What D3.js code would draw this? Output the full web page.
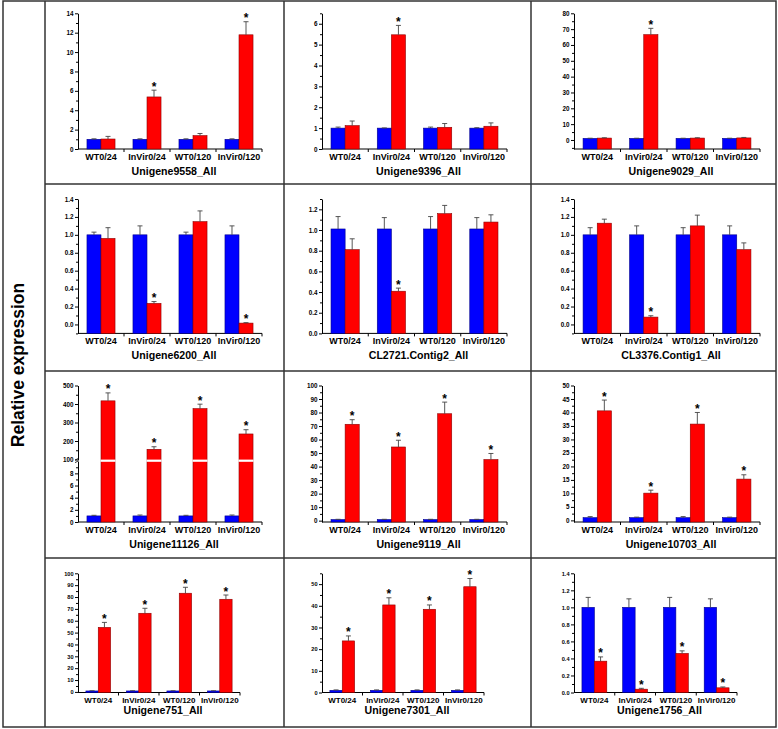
<!DOCTYPE html>
<html>
<head>
<meta charset="utf-8">
<script src="https://cdn.jsdelivr.net/npm/d3@7"></script>
<style>
  body { margin: 0; background: #fff; }
  svg { display: block; font-family: "Liberation Sans", Arial, sans-serif; }
</style>
</head>
<body>
<svg id="chart" width="778" height="729"></svg>
<script>
// data
var groups = ["WT0/24", "InVir0/24", "WT0/120", "InVir0/120"];

var genes = ["Unigene9558_All", "Unigene9396_All", "Unigene9029_All",
             "Unigene6200_All", "CL2721.Contig2_All", "CL3376.Contig1_All",
             "Unigene11126_All", "Unigene9119_All", "Unigene10703_All",
             "Unigene751_All", "Unigene7301_All", "Unigene1756_All"];

// blue bars (control)
var control = [
  [1, 1, 1, 1], [1, 1, 1, 1], [1, 1, 1, 1],
  [1, 1, 1, 1], [1.01, 1.01, 1.01, 1.01], [1, 1, 1, 1],
  [1, 1, 1, 1], [0.8, 0.8, 0.8, 0.8], [1, 1, 1, 1],
  [0.8, 0.8, 0.8, 0.8], [1, 1, 1, 1], [1, 1, 1, 1]
];
var controlErr = [
  [0.05, 0.05, 0.05, 0.05], [0.05, 0.01, 0.05, 0.02], [0.1, 0.1, 0.1, 0.1],
  [0.03, 0.1, 0.03, 0.1], [0.12, 0.11, 0.12, 0.11], [0.08, 0.1, 0.08, 0.1],
  [0.1, 0.15, 0.1, 0.15], [0.2, 0.2, 0.2, 0.2], [0.4, 0.2, 0.4, 0.2],
  [0.2, 0.2, 0.2, 0.2], [0.2, 0.2, 0.2, 0.2], [0.117, 0.1, 0.117, 0.1]
];

// red bars (treated)
var treated = [
  [1.03, 5.37, 1.38, 11.78], [1.12, 5.47, 1.04, 1.09], [1.2, 66.5, 1.2, 1.3],
  [0.96, 0.235, 1.147, 0.015], [0.81, 0.408, 1.158, 1.077], [1.13, 0.082, 1.10, 0.835],
  [417, 155, 375, 238], [71.3, 54.5, 79.1, 45.2], [40.6, 10.1, 35.7, 15.3],
  [54.4, 66.3, 83.2, 78.1], [23.8, 40.4, 38.4, 48.8], [0.368, 0.039, 0.459, 0.055]
];
var treatedErr = [
  [0.27, 0.7, 0.22, 1.35], [0.22, 0.45, 0.18, 0.16], [0.2, 4, 0.2, 0.3],
  [0.12, 0.02, 0.12, 0.005], [0.105, 0.03, 0.08, 0.07], [0.045, 0.015, 0.12, 0.075],
  [43, 14, 24, 23], [3.4, 5, 8.6, 4.5], [4, 1.1, 4.3, 1.6],
  [4.2, 4.2, 5, 3.6], [2.3, 3.3, 2, 3.8], [0.05, 0.01, 0.03, 0.01]
];

// significance marks on the red bars
var stars = [
  [0, 1, 0, 1], [0, 1, 0, 0], [0, 1, 0, 0],
  [0, 1, 0, 1], [0, 1, 0, 0], [0, 1, 0, 0],
  [1, 1, 1, 1], [1, 1, 1, 1], [1, 1, 1, 1],
  [1, 1, 1, 1], [1, 1, 1, 1], [1, 1, 1, 1]
];

// y axis extent and major tick step of each panel (panel 7 has a broken axis)
var yDomain = [[0, 14], [0, 6.5], [-5.7, 80],
               [-0.1, 1.4], [0, 1.3], [-0.1, 1.4],
               [0, 500], [-1, 100], [-0.6, 50],
               [-0.5, 100], [0, 55], [0, 1.4]];
var yStep = [2, 1, 10, 0.2, 0.2, 0.2, null, 10, 5, 10, 10, 0.2];
var brokenLow = [0, 10], brokenHigh = [100, 500];
var brokenLowTicks = [0, 2, 4, 6, 8], brokenHighTicks = [100, 200, 300, 400, 500];

// layout
var colX = [45, 284, 531, 776],
    rowY = [1, 184, 371, 558, 727],
    axisLeft = [78, 322, 574],
    axisRight = [262, 507, 760],
    axisRightLast = [240, 484, 737],
    axisTop = [13.3, 199, 385.5, 573.3],
    axisBottom = [149, 333.4, 522, 692.5];

var blue = "#0000ff", red = "#ff0000";

var svg = d3.select("#chart");

svg.append("rect")
    .attr("x", 3).attr("y", rowY[0])
    .attr("width", colX[3] - 3).attr("height", rowY[4] - rowY[0])
    .attr("fill", "none").attr("stroke", "#333").attr("stroke-width", 1.5);

colX.slice(0, 3).forEach(function(x) {
  svg.append("line").attr("x1", x).attr("x2", x)
      .attr("y1", rowY[0]).attr("y2", rowY[4])
      .attr("stroke", "#333").attr("stroke-width", 1.5);
});
rowY.slice(1, 4).forEach(function(y) {
  svg.append("line").attr("x1", colX[0]).attr("x2", colX[3])
      .attr("y1", y).attr("y2", y)
      .attr("stroke", "#333").attr("stroke-width", 1.5);
});

svg.append("text")
    .attr("transform", "translate(24,365) rotate(-90)")
    .attr("text-anchor", "middle")
    .attr("font-size", "17.5px")
    .attr("font-weight", "bold")
    .text("Relative expression");

function styleAxis(sel, fs) {
  sel.selectAll("path").attr("stroke", "#000");
  sel.selectAll("line").attr("stroke", "#000");
  sel.selectAll("text").attr("font-size", fs + "px").attr("font-weight", "bold")
      .attr("font-family", "Liberation Sans, Arial, sans-serif").attr("fill", "#000");
}

function minorTicks(lo, hi, step, majors) {
  var out = [];
  var half = step / 2;
  for (var v = Math.ceil(lo / half - 1e-6) * half; v <= hi + 1e-6; v += half) {
    var vv = Math.round(v * 1000) / 1000;
    if (!majors.some(function(m) { return Math.abs(m - vv) < 1e-6; })) out.push(vv);
  }
  return out;
}

genes.forEach(function(gene, i) {
  var row = Math.floor(i / 3), col = i % 3;
  var left = axisLeft[col],
      right = (row === 3 ? axisRightLast : axisRight)[col],
      top = axisTop[row], bottom = axisBottom[row];
  var tickFs = row === 3 ? 5.6 : 6.3,
      labelFs = row === 3 ? 8 : 9;

  var g = svg.append("g").attr("class", "panel");

  var x = d3.scaleBand().domain(groups).range([left, right]);
  var bw = x.bandwidth() * 0.305;

  var yv, base;
  if (i === 6) {
    var yLow = d3.scaleLinear().domain(brokenLow).range([bottom, 461.2]);
    var yHigh = d3.scaleLinear().domain(brokenHigh).range([459.5, top]);
    yv = function(v) { return v <= 10 ? yLow(v) : yHigh(v); };
    base = bottom;

    var a1 = g.append("g").attr("transform", "translate(" + left + ",0)")
        .call(d3.axisLeft(yLow).tickValues(brokenLowTicks).tickSize(3).tickSizeOuter(0).tickPadding(1.5));
    var a2 = g.append("g").attr("transform", "translate(" + left + ",0)")
        .call(d3.axisLeft(yHigh).tickValues(brokenHighTicks).tickSize(3).tickSizeOuter(0).tickPadding(1.5));
    g.append("g").attr("transform", "translate(" + left + ",0)")
        .call(d3.axisLeft(yLow).tickValues([1, 3, 5, 7, 9]).tickSize(2).tickSizeOuter(0).tickFormat(""))
        .call(function(s) { s.select(".domain").remove(); s.selectAll("line").attr("stroke", "#000"); });
    g.append("g").attr("transform", "translate(" + left + ",0)")
        .call(d3.axisLeft(yHigh).tickValues([150, 250, 350, 450]).tickSize(2).tickSizeOuter(0).tickFormat(""))
        .call(function(s) { s.select(".domain").remove(); s.selectAll("line").attr("stroke", "#000"); });
    styleAxis(a1, tickFs);
    styleAxis(a2, tickFs);
    // break marks on the axis
    [461.6, 459.1].forEach(function(yy) {
      g.append("line").attr("x1", left - 3).attr("x2", left + 1)
          .attr("y1", yy + 1).attr("y2", yy - 1)
          .attr("stroke", "#000").attr("stroke-width", 0.8);
    });
  } else {
    var dom = yDomain[i], step = yStep[i];
    var y = d3.scaleLinear().domain(dom).range([bottom, top]);
    yv = y;
    base = bottom;
    var majors = d3.range(0, dom[1] + 1e-6, step).map(function(v) { return Math.round(v * 1000) / 1000; });
    var fmt = step < 1 ? d3.format(".1f") : d3.format("d");
    var ax = g.append("g").attr("transform", "translate(" + left + ",0)")
        .call(d3.axisLeft(y).tickValues(majors).tickFormat(fmt).tickSize(3).tickSizeOuter(0).tickPadding(1.5));
    styleAxis(ax, tickFs);
    g.append("g").attr("transform", "translate(" + left + ",0)")
        .call(d3.axisLeft(y).tickValues(minorTicks(dom[0], dom[1], step, majors)).tickSize(2).tickSizeOuter(0).tickFormat(""))
        .call(function(s) { s.select(".domain").remove(); s.selectAll("line").attr("stroke", "#000"); });
  }

  // x axis: line with ticks at the group boundaries
  g.append("line").attr("x1", left).attr("x2", right)
      .attr("y1", base).attr("y2", base).attr("stroke", "#000");
  groups.forEach(function(grp) {
    var xb = x(grp) + x.bandwidth();
    g.append("line").attr("x1", xb).attr("x2", xb)
        .attr("y1", base).attr("y2", base + 3).attr("stroke", "#000");
  });
  g.selectAll("text.xlab").data(groups).enter().append("text")
      .attr("class", "xlab")
      .attr("x", function(d) { return x(d) + x.bandwidth() / 2; })
      .attr("y", base + 10.8)
      .attr("text-anchor", "middle")
      .attr("font-size", labelFs + "px")
      .attr("font-weight", "bold")
      .text(function(d) { return d; });

  g.append("text")
      .attr("x", (left + right) / 2 + 4)
      .attr("y", row === 3 ? base + 21.7 : base + 25.5)
      .attr("text-anchor", "middle")
      .attr("font-size", "10.6px")
      .attr("font-weight", "bold")
      .text(gene);

  var bars = groups.map(function(grp, j) {
    return { grp: grp, c: control[i][j], ce: controlErr[i][j],
             t: treated[i][j], te: treatedErr[i][j], star: stars[i][j] };
  });

  // blue bars
  g.selectAll("rect.ctrl").data(bars).enter().append("rect")
      .attr("class", "ctrl")
      .attr("x", function(d) { return x(d.grp) + x.bandwidth() / 2 - bw; })
      .attr("y", function(d) { return yv(d.c); })
      .attr("width", bw)
      .attr("height", function(d) { return base - yv(d.c); })
      .attr("fill", blue).attr("stroke", "#00008b").attr("stroke-width", 0.6);

  // red bars
  g.selectAll("rect.trt").data(bars).enter().append("rect")
      .attr("class", "trt")
      .attr("x", function(d) { return x(d.grp) + x.bandwidth() / 2; })
      .attr("y", function(d) { return yv(d.t); })
      .attr("width", bw)
      .attr("height", function(d) { return base - yv(d.t); })
      .attr("fill", red).attr("stroke", "#8b0000").attr("stroke-width", 0.6);

  if (i === 6) {
    // white gap across bars at the axis break
    bars.forEach(function(d) {
      if (d.t > 10) {
        g.append("rect")
            .attr("x", x(d.grp) + x.bandwidth() / 2 - 0.5)
            .attr("y", 459.6).attr("width", bw + 1).attr("height", 2.2)
            .attr("fill", "#fff");
      }
    });
  }

  // error bars (upper only)
  function errBar(cx, v, e) {
    var y0 = yv(v), y1 = yv(v + e);
    g.append("path")
        .attr("d", "M" + cx + "," + y0 + "V" + y1 + "M" + (cx - 2.5) + "," + y1 + "H" + (cx + 2.5))
        .attr("fill", "none").attr("stroke", "#444").attr("stroke-width", 0.9);
  }
  bars.forEach(function(d) {
    var cx = x(d.grp) + x.bandwidth() / 2;
    errBar(cx - bw / 2, d.c, d.ce);
    errBar(cx + bw / 2, d.t, d.te);
    if (d.star) {
      g.append("text")
          .attr("x", cx + bw / 2)
          .attr("y", yv(d.t + d.te) + 0.5)
          .attr("text-anchor", "middle")
          .attr("font-size", "12px")
          .attr("font-weight", "bold")
          .text("*");
    }
  });
});
</script>
</body>
</html>
